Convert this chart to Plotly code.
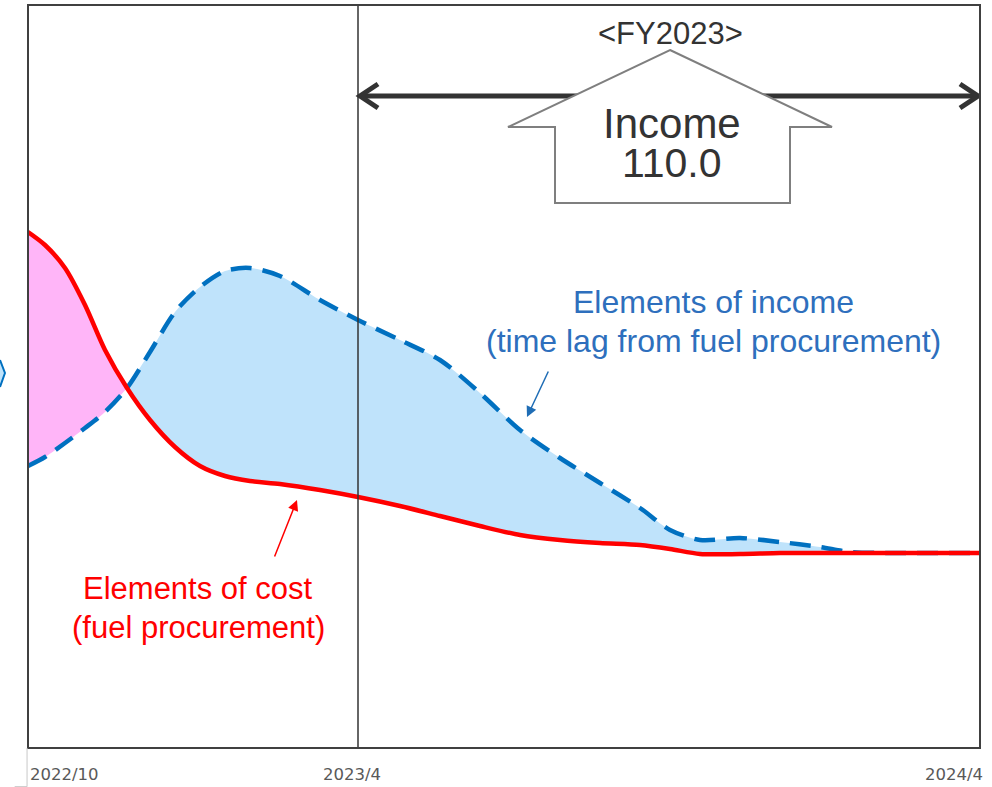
import plotly.graph_objects as go

# ---- data (x: timeline position, y: relative level) ----
x_pos = [0, 17, 37, 57, 77, 99, 122, 147, 172, 197, 222, 252, 292, 330, 372, 412,
         452, 492, 532, 572, 612, 642, 672, 712, 752, 792, 822, 872, 952]
cost = [516, 503, 480, 443, 398, 360, 328, 301, 282, 272, 267, 264, 258, 251, 242,
        232, 222, 213, 208, 205, 203, 199, 194, 194, 195, 195, 195, 195, 195]
income = [282, 291, 305, 320, 336, 360, 396, 436, 461, 477, 480, 472, 448, 428, 408,
          388, 355, 318, 290, 265, 240, 218, 208, 210, 206, 201, 196, 195, 195]
cross_idx = 5

tick_pos = [0, 330, 952]
tick_labels = ["2022/10", "2023/4", "2024/4"]

RED = "#FF0000"
BLUE = "#0070C0"
PINK = "#FFB5F8"
LIGHTBLUE = "#BFE3FB"
FONT = "Liberation Sans, Arial, sans-serif"

fig = go.Figure()

# pink fill (cost above income)
fig.add_trace(go.Scatter(x=x_pos[:cross_idx + 1], y=income[:cross_idx + 1], mode="lines",
                         line=dict(width=0, shape="spline", smoothing=0.8),
                         hoverinfo="skip", showlegend=False))
fig.add_trace(go.Scatter(x=x_pos[:cross_idx + 1], y=cost[:cross_idx + 1], mode="lines",
                         line=dict(width=0, shape="spline", smoothing=0.8),
                         fill="tonexty", fillcolor=PINK,
                         hoverinfo="skip", showlegend=False))
# light blue fill (income above cost)
fig.add_trace(go.Scatter(x=x_pos[cross_idx:], y=cost[cross_idx:], mode="lines",
                         line=dict(width=0, shape="spline", smoothing=0.8),
                         hoverinfo="skip", showlegend=False))
fig.add_trace(go.Scatter(x=x_pos[cross_idx:], y=income[cross_idx:], mode="lines",
                         line=dict(width=0, shape="spline", smoothing=0.8),
                         fill="tonexty", fillcolor=LIGHTBLUE,
                         hoverinfo="skip", showlegend=False))
# lines
fig.add_trace(go.Scatter(x=x_pos, y=income, mode="lines", name="Elements of income",
                         line=dict(color=BLUE, width=4.5, dash="21px,11px",
                                   shape="spline", smoothing=0.8),
                         showlegend=False))
fig.add_trace(go.Scatter(x=x_pos, y=cost, mode="lines", name="Elements of cost",
                         line=dict(color=RED, width=4.5, shape="spline", smoothing=0.8),
                         showlegend=False))

shapes = []
# FY2023 boundary line
shapes.append(dict(type="line", xref="x", yref="paper", x0=tick_pos[1], x1=tick_pos[1],
                   y0=0, y1=1, line=dict(color="#333333", width=1.5)))
# double-headed arrow
shapes.append(dict(type="line", xref="x", yref="y", x0=tick_pos[1] + 3, x1=tick_pos[2] - 3,
                   y0=652, y1=652, line=dict(color="#333333", width=5)))
shapes.append(dict(type="path", xref="x", yref="y",
                   path="M 350 664 L 332 652 L 350 640",
                   line=dict(color="#333333", width=5)))
shapes.append(dict(type="path", xref="x", yref="y",
                   path="M 932 664 L 950 652 L 932 640",
                   line=dict(color="#333333", width=5)))
# up-arrow (house) shape
shapes.append(dict(type="path", xref="x", yref="y",
                   path="M 642 698 L 804 621 L 762 621 L 762 545 L 527 545 L 527 621 L 480 621 Z",
                   fillcolor="white", line=dict(color="#7F7F7F", width=2)))
# plot frame
shapes.append(dict(type="rect", xref="paper", yref="paper", x0=0, x1=1, y0=0, y1=1,
                   line=dict(color="#404040", width=2)))
# cut-off marker at left edge
shapes.append(dict(type="path", xref="paper", yref="y",
                   path="M -0.0294 388 L -0.0242 375 L -0.0294 361",
                   fillcolor=LIGHTBLUE, line=dict(color=BLUE, width=2)))
# small corner guides bottom-left
shapes.append(dict(type="line", xref="paper", yref="paper", x0=-0.001, x1=-0.001,
                   y0=0, y1=-0.052, line=dict(color="#C8C8C8", width=1)))
shapes.append(dict(type="line", xref="paper", yref="paper", x0=-0.014, x1=-0.001,
                   y0=-0.052, y1=-0.052, line=dict(color="#C8C8C8", width=1)))

annotations = []
annotations.append(dict(x=642, y=715, xref="x", yref="y", text="&lt;FY2023&gt;",
                        showarrow=False, font=dict(family=FONT, size=31, color="#333333")))
annotations.append(dict(x=644, y=625, xref="x", yref="y", text="Income",
                        showarrow=False, font=dict(family=FONT, size=42, color="#333333")))
annotations.append(dict(x=644, y=585, xref="x", yref="y", text="110.0",
                        showarrow=False, font=dict(family=FONT, size=41, color="#333333")))
# cost label
annotations.append(dict(x=170, y=160, xref="x", yref="y", text="Elements of cost",
                        showarrow=False, font=dict(family=FONT, size=31, color=RED)))
annotations.append(dict(x=170, y=121, xref="x", yref="y", text="(fuel procurement)",
                        showarrow=False, font=dict(family=FONT, size=31, color=RED)))
annotations.append(dict(x=269, y=248, ax=246, ay=190, xref="x", yref="y", axref="x", ayref="y",
                        text="", showarrow=True, arrowhead=2, arrowsize=1.4,
                        arrowwidth=1.5, arrowcolor=RED))
# income label
annotations.append(dict(x=685, y=446, xref="x", yref="y", text="Elements of income",
                        showarrow=False, font=dict(family=FONT, size=32, color="#2E6FBD")))
annotations.append(dict(x=685, y=407, xref="x", yref="y",
                        text="(time lag from fuel procurement)",
                        showarrow=False, font=dict(family=FONT, size=32, color="#2E6FBD")))
annotations.append(dict(x=499, y=331, ax=521, ay=378, xref="x", yref="y", axref="x", ayref="y",
                        text="", showarrow=True, arrowhead=2, arrowsize=1.4,
                        arrowwidth=1.5, arrowcolor="#1F6DB5"))
# tick labels
anchors = ["left", "center", "right"]
offsets = [0, -6, 5]
for pos, lab, anc, off in zip(tick_pos, tick_labels, anchors, offsets):
    annotations.append(dict(x=pos, y=-0.0363, xref="x", yref="paper", text=lab,
                            xanchor=anc, yanchor="middle", xshift=off, showarrow=False,
                            font=dict(family="DejaVu Sans, Verdana, sans-serif", size=16.5,
                                      color="#595959")))

fig.update_layout(
    width=992, height=787,
    margin=dict(l=28, r=12, t=5, b=39),
    paper_bgcolor="white", plot_bgcolor="white",
    xaxis=dict(range=[0, 952], showgrid=False, zeroline=False, showticklabels=False,
               ticks="", fixedrange=True),
    yaxis=dict(range=[0, 743], showgrid=False, zeroline=False, showticklabels=False,
               ticks="", fixedrange=True),
    shapes=shapes, annotations=annotations,
    showlegend=False,
)

fig.write_html("out.html", config={"displayModeBar": False},
               post_script="document.body.style.margin='0';document.body.style.overflow='hidden';")
